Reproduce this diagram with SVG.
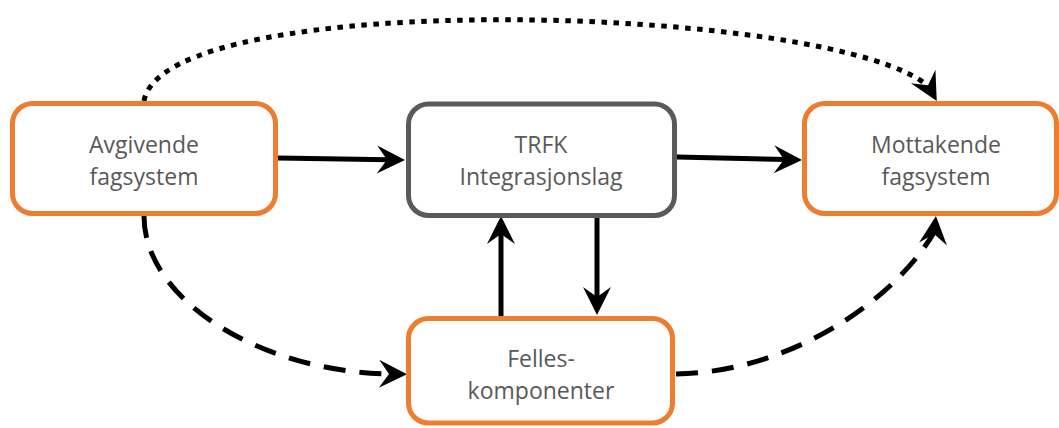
<svg xmlns="http://www.w3.org/2000/svg" width="1059" height="428" viewBox="0 0 1059 428">
<style>
.box{fill:#ffffff;stroke-width:5}
.org{stroke:#ED7D31}
.gry{stroke:#5A5A5A}
.lbl{font-family:"Open Sans","Liberation Sans",sans-serif;font-size:23px;fill:#595959;text-anchor:middle}
.con{fill:none;stroke:#000000;stroke-width:5}
.dash{stroke-dasharray:22 14}
.dot{stroke-dasharray:5.5 6.5}
</style>
<defs>
<marker id="ah" viewBox="-14 -15 32 30" refX="0" refY="0" markerWidth="32" markerHeight="30" markerUnits="userSpaceOnUse" orient="auto">
<path d="M16,0 L-12,-14 L-2,0 L-12,14 Z" fill="#000000"/>
</marker>
<marker id="ahDot" viewBox="-14 -15 32 30" refX="0" refY="0" markerWidth="32" markerHeight="30" markerUnits="userSpaceOnUse" orient="61">
<path d="M16,0 L-12,-14 L-2,0 L-12,14 Z" fill="#000000"/>
</marker>
<marker id="ahUp" viewBox="-14 -15 32 30" refX="0" refY="0" markerWidth="32" markerHeight="30" markerUnits="userSpaceOnUse" orient="-84">
<path d="M16,0 L-12,-14 L-2,0 L-12,14 Z" fill="#000000"/>
</marker>
</defs>
<g id="connectors">
<path class="con" d="M278,158 L389,159.7" marker-end="url(#ah)"/>
<path class="con" d="M677,157 L786,159.6" marker-end="url(#ah)"/>
<path class="con" d="M501,320 L501,232" marker-end="url(#ah)"/>
<path class="con" d="M597,218 L597,299" marker-end="url(#ah)"/>
<path class="con dash" d="M144,216 C144,300 260,372 391,374" marker-end="url(#ah)"/>
<path class="con dash" d="M676,374 C790,372 894,301 934.3,232" marker-end="url(#ahUp)"/>
<path class="con dot" d="M144,101 C165,-15 840,5 929,87" marker-end="url(#ahDot)"/>
</g>
<g id="avgivende">
<rect class="box org" x="12.5" y="103.5" width="263" height="110" rx="20"/>
<text class="lbl" x="144" y="153">Avgivende</text>
<text class="lbl" x="144" y="185">fagsystem</text>
</g>
<g id="trfk">
<rect class="box gry" x="408.5" y="104" width="266" height="111.5" rx="20"/>
<text class="lbl" x="541" y="153">TRFK</text>
<text class="lbl" x="541" y="185">Integrasjonslag</text>
</g>
<g id="mottakende">
<rect class="box org" x="804.5" y="103.5" width="252" height="110" rx="20"/>
<text class="lbl" x="936" y="153">Mottakende</text>
<text class="lbl" x="936" y="185">fagsystem</text>
</g>
<g id="felles">
<rect class="box org" x="408.5" y="318.5" width="264" height="104.5" rx="20"/>
<text class="lbl" x="541" y="367">Felles-</text>
<text class="lbl" x="541" y="399">komponenter</text>
</g>
</svg>
